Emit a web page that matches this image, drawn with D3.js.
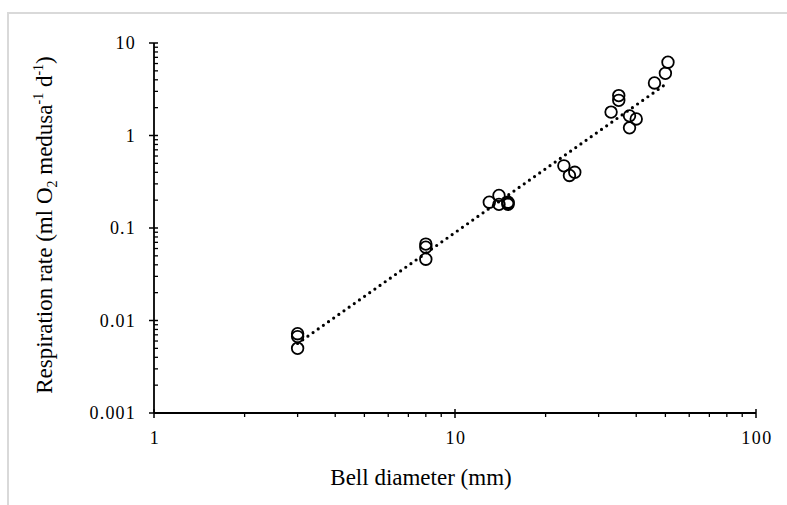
<!DOCTYPE html>
<html>
<head>
<meta charset="utf-8">
<script src="https://cdn.jsdelivr.net/npm/d3@7"></script>
<style>
  body { margin: 0; background: #fff; }
  text { font-family: "Liberation Serif", "Times New Roman", serif; fill: #000; }
</style>
</head>
<body>
<svg id="chart" width="787" height="505"></svg>
<script>
// bell diameter (mm) and respiration rate (ml O2 medusa-1 d-1)
const diameter = [3, 3, 3, 8, 8, 8, 13, 14, 14, 15, 15, 15, 23, 24, 25, 33, 35, 35, 38, 40, 38, 46, 50, 51];
const respiration = [0.0072, 0.0067, 0.005, 0.067, 0.062, 0.046, 0.19, 0.225, 0.18, 0.19, 0.18, 0.185,
                     0.47, 0.37, 0.40, 1.79, 2.7, 2.4, 1.63, 1.51, 1.21, 3.7, 4.7, 6.2];
const xTicks = [1, 10, 100];
const yTicks = [0.001, 0.01, 0.1, 1, 10];

const svg = d3.select("#chart");

// light frame around the figure
svg.append("rect")
  .attr("x", 8).attr("y", 13)
  .attr("width", 800).attr("height", 520)
  .attr("fill", "none")
  .attr("stroke", "#d9d9d9")
  .attr("stroke-width", 2);

const x = d3.scaleLog().domain([1, 100]).range([154, 756]);
const y = d3.scaleLog().domain([0.001, 10]).range([413, 43]);

// minor ticks
const xMinor = [];
for (let d = 1; d < 100; d *= 10) for (let k = 2; k <= 9; k++) xMinor.push(d * k);
const yMinor = [];
for (let d = 0.001; d < 10; d *= 10) for (let k = 2; k <= 9; k++) yMinor.push(+(d * k).toPrecision(3));

const g = svg.append("g");

g.selectAll(".xminor").data(xMinor).enter().append("line")
  .attr("x1", d => x(d)).attr("x2", d => x(d))
  .attr("y1", 413).attr("y2", 417)
  .attr("stroke", "#000").attr("stroke-width", 1.3);

g.selectAll(".yminor").data(yMinor).enter().append("line")
  .attr("x1", 154).attr("x2", 158)
  .attr("y1", d => y(d)).attr("y2", d => y(d))
  .attr("stroke", "#000").attr("stroke-width", 1.3);

g.selectAll(".xmajor").data(xTicks).enter().append("line")
  .attr("x1", d => x(d)).attr("x2", d => x(d))
  .attr("y1", 409).attr("y2", 418)
  .attr("stroke", "#000").attr("stroke-width", 1.5);

g.selectAll(".ymajor").data(yTicks).enter().append("line")
  .attr("x1", 149).attr("x2", 158)
  .attr("y1", d => y(d)).attr("y2", d => y(d))
  .attr("stroke", "#000").attr("stroke-width", 1.5);

// axis lines
g.append("line").attr("x1", 154).attr("x2", 154).attr("y1", 43).attr("y2", 413)
  .attr("stroke", "#000").attr("stroke-width", 1.8);
g.append("line").attr("x1", 154).attr("x2", 756).attr("y1", 413).attr("y2", 413)
  .attr("stroke", "#000").attr("stroke-width", 1.8);

// tick labels
g.selectAll(".xlab").data(xTicks).enter().append("text")
  .attr("x", d => x(d) + 1).attr("y", 444)
  .attr("text-anchor", "middle")
  .style("font-size", "18px")
  .style("letter-spacing", "1.5px")
  .text(d => d);

g.selectAll(".ylab").data(yTicks).enter().append("text")
  .attr("x", 136).attr("y", d => y(d) + 6)
  .attr("text-anchor", "end")
  .style("font-size", "18px")
  .style("letter-spacing", "1.2px")
  .text(d => d);

// axis titles
svg.append("text")
  .attr("x", 421).attr("y", 485)
  .attr("text-anchor", "middle")
  .style("font-size", "23px")
  .text("Bell diameter (mm)");

const yt = svg.append("text")
  .attr("transform", "translate(52,225) rotate(-90)")
  .attr("text-anchor", "middle")
  .style("font-size", "23px");
yt.append("tspan").text("Respiration rate (ml O");
yt.append("tspan").attr("dy", 5).style("font-size", "14px").text("2");
yt.append("tspan").attr("dy", -5).text(" medusa");
yt.append("tspan").attr("dy", -9).style("font-size", "14px").text("-1");
yt.append("tspan").attr("dy", 9).text(" d");
yt.append("tspan").attr("dy", -9).style("font-size", "14px").text("-1");
yt.append("tspan").attr("dy", 9).text(")");

// power trendline fitted in log space
const lx = diameter.map(Math.log10), ly = respiration.map(Math.log10);
const mx = d3.mean(lx), my = d3.mean(ly);
const b = d3.sum(lx.map((v, i) => (v - mx) * (ly[i] - my))) / d3.sum(lx.map(v => (v - mx) ** 2));
const a = my - b * mx;
const [x0, x1] = d3.extent(diameter);
const fitPts = d3.range(0, 51).map(i => {
  const xv = x0 * Math.pow(x1 / x0, i / 50);
  return [xv, Math.pow(10, a + b * Math.log10(xv))];
});
svg.append("path")
  .datum(fitPts)
  .attr("d", d3.line().x(d => x(d[0])).y(d => y(d[1])))
  .attr("fill", "none")
  .attr("stroke", "#000")
  .attr("stroke-width", 3.2)
  .attr("stroke-linecap", "round")
  .attr("stroke-dasharray", "0 6.3");

// data points
svg.selectAll(".pt").data(diameter).enter().append("circle")
  .attr("cx", d => x(d))
  .attr("cy", (d, i) => y(respiration[i]))
  .attr("r", 5.8)
  .attr("fill", "none")
  .attr("stroke", "#000")
  .attr("stroke-width", 1.8);
</script>
</body>
</html>
